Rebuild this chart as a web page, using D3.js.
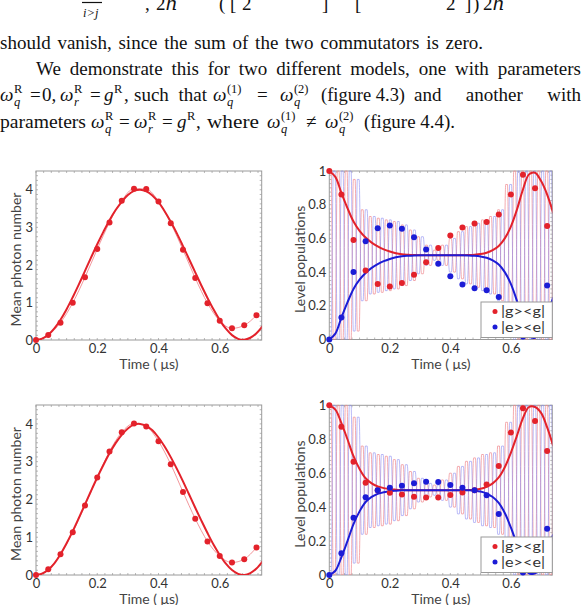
<!DOCTYPE html>
<html><head><meta charset="utf-8">
<script src="https://cdn.jsdelivr.net/npm/d3@7"></script>
<style>body{margin:0;background:#fff}svg{display:block}</style>
</head><body>
<svg id="c" width="583" height="605"></svg>
<script>
// ---------- data ----------
const tDots = [0,0.04,0.08,0.12,0.16,0.20,0.24,0.28,0.32,0.36,0.40,0.44,0.48,0.52,0.56,0.60,0.64,0.68,0.72];
const photonDotsA = [0,0.13,0.46,0.99,1.67,2.42,3.13,3.71,4.03,4.02,3.69,3.11,2.40,1.65,0.98,0.51,0.31,0.39,0.66];
const photonDotsB = [0,0.15,0.55,1.13,1.84,2.58,3.27,3.78,4.01,3.93,3.54,2.93,2.20,1.49,0.89,0.50,0.33,0.42,0.73];
const tCurve = [0,0.02,0.04,0.06,0.08,0.10,0.12,0.14,0.16,0.18,0.20,0.22,0.24,0.26,0.28,0.30,0.32,0.34,0.36,0.38,0.40,0.42,0.44,0.46,0.48,0.50,0.52,0.54,0.56,0.58,0.60,0.62,0.64,0.66,0.68,0.70,0.72,0.74];
const photonCurveA = [0,0.035,0.14,0.31,0.54,0.82,1.14,1.48,1.84,2.2,2.55,2.88,3.19,3.46,3.68,3.86,3.97,4.0,3.96,3.85,3.67,3.43,3.15,2.84,2.5,2.15,1.8,1.45,1.12,0.81,0.53,0.3,0.13,0.03,0.005,0.06,0.18,0.37];
const photonCurveB = [0,0.035,0.14,0.31,0.55,0.84,1.16,1.51,1.87,2.23,2.58,2.91,3.22,3.49,3.71,3.88,3.98,4.0,3.95,3.83,3.64,3.4,3.12,2.81,2.48,2.13,1.78,1.44,1.11,0.8,0.53,0.3,0.13,0.03,0.0,0.05,0.17,0.36];
const popCurveGA = [1.0,0.965,0.87,0.78,0.70,0.645,0.605,0.575,0.553,0.535,0.522,0.512,0.506,0.503,0.501,0.5,0.5,0.5,0.5,0.5,0.5,0.5,0.5,0.501,0.503,0.507,0.515,0.53,0.555,0.60,0.67,0.77,0.89,0.98,0.99,0.94,0.86,0.75];
const popCurveEA = [0.0,0.035,0.13,0.22,0.30,0.355,0.395,0.425,0.447,0.465,0.478,0.488,0.494,0.497,0.499,0.5,0.5,0.5,0.5,0.5,0.5,0.5,0.5,0.499,0.497,0.493,0.485,0.47,0.445,0.40,0.33,0.23,0.11,0.02,0.01,0.06,0.14,0.25];
const popCurveGB = [1.0,0.975,0.895,0.80,0.70,0.625,0.57,0.54,0.522,0.512,0.506,0.503,0.501,0.5,0.5,0.5,0.5,0.5,0.5,0.5,0.5,0.5,0.5,0.501,0.503,0.508,0.52,0.54,0.575,0.635,0.72,0.82,0.925,0.99,0.99,0.955,0.87,0.76];
const popCurveEB = [0.0,0.025,0.105,0.20,0.30,0.375,0.43,0.46,0.478,0.488,0.494,0.497,0.499,0.5,0.5,0.5,0.5,0.5,0.5,0.5,0.5,0.5,0.5,0.499,0.497,0.492,0.48,0.46,0.425,0.365,0.28,0.18,0.075,0.01,0.01,0.045,0.13,0.24];
const dotsGA = [1.0,0.86,0.59,0.41,0.33,0.315,0.335,0.385,0.458,0.543,0.617,0.665,0.689,0.698,0.742,0.861,0.978,0.897,0.673];
const dotsEA = [0.0,0.13,0.40,0.583,0.66,0.677,0.657,0.607,0.534,0.45,0.375,0.327,0.304,0.292,0.252,0.139,0.018,0.10,0.32];
const dotsGB = [1.0,0.874,0.668,0.544,0.5,0.485,0.475,0.461,0.456,0.456,0.471,0.486,0.50,0.534,0.642,0.839,0.982,0.907,0.731];
const dotsEB = [0.0,0.128,0.338,0.458,0.50,0.514,0.526,0.54,0.55,0.548,0.53,0.514,0.50,0.47,0.36,0.16,0.014,0.09,0.273];
// fast oscillation: |g><g| peak value of each cycle
const oscPeriod = 0.0265;
const oscPeakA = [1.0,1.0,1.0,0.95,0.77,0.73,0.72,0.71,0.70,0.68,0.65,0.61,0.56,0.53,0.56,0.60,0.64,0.67,0.69,0.71,0.73,0.77,0.92,1.0,1.0,1.0,1.0,1.0,1.0];
const oscPeakB = [1.0,1.0,1.0,0.93,0.76,0.72,0.71,0.70,0.68,0.65,0.61,0.57,0.54,0.53,0.56,0.60,0.64,0.67,0.69,0.71,0.72,0.76,0.90,1.0,1.0,1.0,1.0,1.0,1.0];
const xTicks = [0,0.2,0.4,0.6];
const yTicksPhoton = [0,1,2,3,4];
const yTicksPop = [0,0.2,0.4,0.6,0.8,1];
const legendLabels = ["|g><g|","|e><e|"];
const xTitle = "Time ( \u03bcs)";
const yTitlePhoton = "Mean photon number";
const yTitlePop = "Level populations";

// ---------- page ----------
const svg = d3.select('#c');
svg.append('rect').attr('width',583).attr('height',605).attr('fill','#fff');
const serif = '"Liberation Serif","DejaVu Serif",serif';
const sans = 'Lato,"Open Sans",sans-serif';
const FS = 19;

function plain(txt,x,y,w){
  const t = svg.append('text').attr('x',x).attr('y',y).attr('font-family',serif)
    .attr('font-size',FS).attr('fill','#111').text(txt);
  if(w){
    const nat = t.node().getComputedTextLength();
    const spaces = (txt.match(/ /g)||[]).length;
    if(spaces>0 && w>nat){ t.attr('word-spacing',((w-nat)/spaces).toFixed(2)); }
    else { t.attr('textLength',w).attr('lengthAdjust','spacingAndGlyphs'); }
  }
  return t;
}
function sym(main,sub,sup,x,y){
  const m = svg.append('text').attr('x',x).attr('y',y).attr('font-family',serif)
    .attr('font-size',FS).attr('font-style','italic').attr('fill','#111').text(main);
  const w = m.node().getComputedTextLength();
  if(sub) svg.append('text').attr('x',x+w+0.5).attr('y',y+5).attr('font-family',serif)
    .attr('font-size',12.5).attr('font-style','italic').attr('fill','#111').text(sub);
  if(sup) svg.append('text').attr('x',x+w+0.5).attr('y',y-8).attr('font-family',serif)
    .attr('font-size',12.5).attr('fill','#111').text(sup);
}

// equation remnants (cut off by top edge)
svg.append('line').attr('x1',82).attr('x2',102).attr('y1',2.5).attr('y2',2.5).attr('stroke','#111').attr('stroke-width',1.2);
svg.append('text').attr('x',83).attr('y',17).attr('font-family',serif).attr('font-size',12.5).attr('font-style','italic').attr('fill','#111').text('i>j');
plain(',',145,10);
plain('2\u210f',156,10);
plain('(',219,10); plain('[',230,10); plain('2',242,10); plain(']',322,10);
plain('[',355,10); plain('2',446,10); plain(']',465,10); plain(')',473,10);
plain('2\u210f',483,10);

plain('should vanish, since the sum of the two commutators is zero.',0,49,483);
plain('We demonstrate this for two different models, one with parameters',36,75,545);
// line 3
const L3 = 101;
sym('\u03c9','q','R',0,L3);
plain('=',30,L3); plain('0,',42,L3);
sym('\u03c9','r','R',60,L3);
plain('=',90,L3);
sym('g',null,'R',104,L3); plain(',',124,L3);
plain('such that',134,L3,73);
sym('\u03c9','q','(1)',213,L3);
plain('=',257,L3);
sym('\u03c9','q','(2)',280,L3);
plain('(figure 4.3)',321,L3,84);
plain('and another with',414,L3,167);
// line 4
const L4 = 128;
plain('parameters',0,L4,86);
sym('\u03c9','q','R',91,L4);
plain('=',119,L4);
sym('\u03c9','r','R',134,L4);
plain('=',162,L4);
sym('g',null,'R',177,L4); plain(',',196,L4);
plain('where',207,L4,52);
sym('\u03c9','q','(1)',267,L4);
plain('\u2260',306,L4);
sym('\u03c9','q','(2)',325,L4);
plain('(figure 4.4).',364,L4,91);

// ---------- panels ----------
const RED='#e3222b', BLUE='#1c1cd6', LRED='#f08a90', LBLUE='#8c8cf2', FRAME='#9a9a9a';
const panels = [
  {id:'a',x0:36,x1:261.7,y0:171,y1:340,type:'photon',dots:photonDotsA,curve:photonCurveA},
  {id:'b',x0:329.3,x1:552.3,y0:171,y1:339.5,type:'pop',g:popCurveGA,e:popCurveEA,dg:dotsGA,de:dotsEA,osc:oscPeakA,leg:[481,302]},
  {id:'c',x0:36,x1:261.7,y0:405,y1:575,type:'photon',dots:photonDotsB,curve:photonCurveB},
  {id:'d',x0:329.3,x1:552.3,y0:405.3,y1:575,type:'pop',g:popCurveGB,e:popCurveEB,dg:dotsGB,de:dotsEB,osc:oscPeakB,leg:[481,537]}
];

panels.forEach(p=>{
  const x = d3.scaleLinear().domain([0,0.737]).range([p.x0,p.x1]);
  const y = d3.scaleLinear().domain(p.type==='photon'?[0,4.5]:[0,1]).range([p.y1,p.y0]);
  const g = svg.append('g');
  g.append('clipPath').attr('id','clip'+p.id).append('rect')
    .attr('x',p.x0).attr('y',p.y0-1).attr('width',p.x1-p.x0).attr('height',p.y1-p.y0+1);

  const minorX = d3.range(0,0.737,0.025);
  const minorY = p.type==='photon'? d3.range(0,4.5,0.125) : d3.range(0,1.0001,0.025);
  const tk = g.append('g').attr('stroke',FRAME).attr('stroke-width',0.7);
  minorX.forEach(v=>{
    tk.append('line').attr('x1',x(v)).attr('x2',x(v)).attr('y1',p.y1).attr('y2',p.y1-2);
    tk.append('line').attr('x1',x(v)).attr('x2',x(v)).attr('y1',p.y0).attr('y2',p.y0+2);
  });
  minorY.forEach(v=>{
    tk.append('line').attr('x1',p.x0).attr('x2',p.x0+2).attr('y1',y(v)).attr('y2',y(v));
    tk.append('line').attr('x1',p.x1).attr('x2',p.x1-2).attr('y1',y(v)).attr('y2',y(v));
  });
  g.append('rect').attr('x',p.x0).attr('y',p.y0).attr('width',p.x1-p.x0).attr('height',p.y1-p.y0)
    .attr('fill','none').attr('stroke',FRAME).attr('stroke-width',1);

  const ax = g.append('g').attr('transform',`translate(0,${p.y1})`)
    .call(d3.axisBottom(x).tickValues(xTicks).tickSize(0).tickPadding(4).tickFormat(d=>String(d)));
  const yTicks = p.type==='photon'? yTicksPhoton : yTicksPop;
  const ay = g.append('g').attr('transform',`translate(${p.x0},0)`)
    .call(d3.axisLeft(y).tickValues(yTicks).tickSize(0).tickPadding(3).tickFormat(d=>String(d)));
  [ax,ay].forEach(a=>{
    a.select('.domain').remove();
    a.selectAll('text').attr('font-family',sans).attr('font-size',13).attr('fill','#333');
  });
  g.append('text').attr('x',(p.x0+p.x1)/2).attr('y',p.y1+29).attr('text-anchor','middle')
    .attr('font-family',sans).attr('font-size',14).attr('fill','#444').text(xTitle);
  const tx = p.type==='photon'? 21 : 305;
  g.append('text').attr('transform',`translate(${tx},${(p.y0+p.y1)/2+4}) rotate(-90)`).attr('text-anchor','middle')
    .attr('font-family',sans).attr('font-size',14).attr('fill','#444')
    .text(p.type==='photon'? yTitlePhoton : yTitlePop);

  const plot = g.append('g').attr('clip-path',`url(#clip${p.id})`);
  if(p.type==='photon'){
    const dl = tDots.map((t,i)=>[t,p.dots[i]]);
    plot.append('path').attr('d',d3.line().x(d=>x(d[0])).y(d=>y(d[1])).curve(d3.curveMonotoneX)(dl))
      .attr('fill','none').attr('stroke',LRED).attr('stroke-width',0.9);
    const cl = tCurve.map((t,i)=>[t,p.curve[i]]);
    plot.append('path').attr('d',d3.line().x(d=>x(d[0])).y(d=>y(d[1])).curve(d3.curveCatmullRom)(cl))
      .attr('fill','none').attr('stroke',RED).attr('stroke-width',2);
    g.selectAll(null).data(dl).enter().append('circle').attr('cx',d=>x(d[0])).attr('cy',d=>y(d[1]))
      .attr('r',3).attr('fill',RED);
  } else {
    const pts = [];
    p.osc.forEach((v,k)=>{
      const t = k*oscPeriod;
      pts.push([t,v],[t+0.22*oscPeriod,v],[t+0.5*oscPeriod,1-v],[t+0.72*oscPeriod,1-v]);
    });
    const ol = d3.line().x(d=>x(d[0])).y(d=>y(d[1])).curve(d3.curveMonotoneX);
    plot.append('path').attr('d',ol(pts)).attr('fill','none').attr('stroke',LRED).attr('stroke-width',0.8).attr('opacity',0.9);
    plot.append('path').attr('d',ol(pts.map(d=>[d[0],1-d[1]]))).attr('fill','none').attr('stroke',LBLUE).attr('stroke-width',0.8).attr('opacity',0.75);
    const cl = d3.line().x(d=>x(d[0])).y(d=>y(d[1])).curve(d3.curveCatmullRom);
    plot.append('path').attr('d',cl(tCurve.map((t,i)=>[t,p.g[i]]))).attr('fill','none').attr('stroke',RED).attr('stroke-width',2);
    plot.append('path').attr('d',cl(tCurve.map((t,i)=>[t,p.e[i]]))).attr('fill','none').attr('stroke',BLUE).attr('stroke-width',2);
    g.selectAll(null).data(tDots.map((t,i)=>[t,p.dg[i]])).enter().append('circle')
      .attr('cx',d=>x(d[0])).attr('cy',d=>y(d[1])).attr('r',3).attr('fill',RED);
    g.selectAll(null).data(tDots.map((t,i)=>[t,p.de[i]])).enter().append('circle')
      .attr('cx',d=>x(d[0])).attr('cy',d=>y(d[1])).attr('r',3).attr('fill',BLUE);
    const lg = g.append('g').attr('transform',`translate(${p.leg[0]},${p.leg[1]})`);
    lg.append('rect').attr('width',p.x1-p.leg[0]).attr('height',35.5).attr('fill','#fff').attr('stroke',FRAME).attr('stroke-width',1);
    legendLabels.forEach((lab,i)=>{
      lg.append('circle').attr('cx',14).attr('cy',9.5+i*15.5).attr('r',2.5).attr('fill',i? BLUE:RED);
      lg.append('text').attr('x',20).attr('y',14+i*15.5).attr('font-family',sans).attr('font-size',14)
        .attr('textLength',44).attr('lengthAdjust','spacingAndGlyphs').attr('fill','#333').text(lab);
    });
  }
});
</script>
</body></html>
